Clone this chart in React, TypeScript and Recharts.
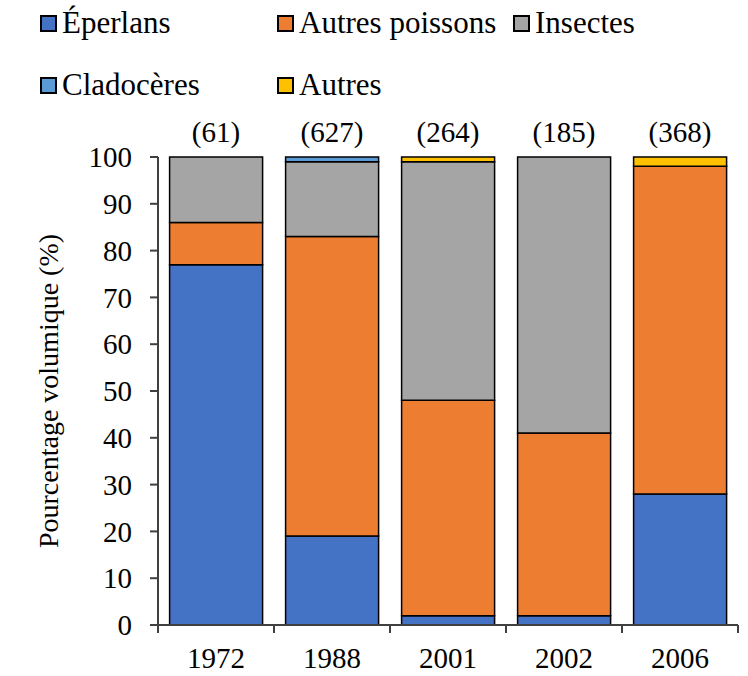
import React from "react";
import { BarChart, Bar, XAxis, YAxis } from "recharts";

const years = ["1972", "1988", "2001", "2002", "2006"];
const sampleSizes = ["(61)", "(627)", "(264)", "(185)", "(368)"];
const eperlans = [77, 19, 2, 2, 28];
const autresPoissons = [9, 64, 46, 39, 70];
const insectes = [14, 16, 51, 59, 0];
const cladoceres = [0, 1, 0, 0, 0];
const autres = [0, 0, 1, 0, 2];
const yTicks = [0, 10, 20, 30, 40, 50, 60, 70, 80, 90, 100];

const series = [
  { key: "eperlans", name: "Éperlans", color: "#4472C4" },
  { key: "autresPoissons", name: "Autres poissons", color: "#ED7D31" },
  { key: "insectes", name: "Insectes", color: "#A5A5A5" },
  { key: "cladoceres", name: "Cladocères", color: "#5B9BD5" },
  { key: "autres", name: "Autres", color: "#FFC000" },
];

const data = years.map((year, i) => ({
  year,
  n: sampleSizes[i],
  eperlans: eperlans[i],
  autresPoissons: autresPoissons[i],
  insectes: insectes[i],
  cladoceres: cladoceres[i],
  autres: autres[i],
}));

const FONT = "Liberation Serif, Times New Roman, serif";
const AXIS = "#404040";

const W = 748;
const H = 676;
const PLOT_LEFT = 158;
const PLOT_RIGHT = 738;
const BAND = (PLOT_RIGHT - PLOT_LEFT) / years.length;

// Excel-style x ticks: marks sit at category boundaries, labels in the middle
function YearTick(props: any) {
  const { x, y, payload, index } = props;
  const left = x - BAND / 2;
  return (
    <g>
      <line x1={left} y1={y - 8} x2={left} y2={y} stroke={AXIS} strokeWidth={2} />
      {index === years.length - 1 && (
        <line x1={x + BAND / 2} y1={y - 8} x2={x + BAND / 2} y2={y} stroke={AXIS} strokeWidth={2} />
      )}
      <text x={x} y={y + 35} textAnchor="middle" fontFamily={FONT} fontSize={29} fill="#000">
        {payload.value}
      </text>
    </g>
  );
}

const legendRows = [
  [series[0], series[1], series[2]],
  [series[3], series[4]],
];
const legendX = [40, 277, 513];
const legendY = [23, 85];

function LegendBox() {
  return (
    <>
      {legendRows.map((row, r) =>
        row.map((s, c) => (
          <div
            key={s.key}
            style={{
              position: "absolute",
              left: legendX[c],
              top: legendY[r] - 18,
              display: "flex",
              alignItems: "center",
              fontFamily: FONT,
              fontSize: 31,
              lineHeight: "36px",
              color: "#000",
              whiteSpace: "nowrap",
            }}
          >
            <span
              style={{
                display: "inline-block",
                width: 13,
                height: 13,
                background: s.color,
                border: "2px solid #000",
                marginRight: 5,
              }}
            />
            {s.name}
          </div>
        ))
      )}
    </>
  );
}

export default function App() {
  return (
    <div style={{ position: "absolute", left: 0, top: 0, width: W, height: H, background: "#fff" }}>
      <LegendBox />
      <BarChart
        width={W}
        height={H}
        data={data}
        barCategoryGap="10%"
        margin={{ top: 112, right: W - PLOT_RIGHT, bottom: 0, left: 0 }}
      >
        <XAxis
          xAxisId="top"
          orientation="top"
          dataKey="n"
          axisLine={false}
          tickLine={false}
          height={45}
          tick={{ fontFamily: FONT, fontSize: 29, fill: "#000" }}
          tickMargin={9}
        />
        <XAxis
          dataKey="year"
          height={51}
          axisLine={{ stroke: AXIS, strokeWidth: 2 }}
          tickLine={false}
          tick={<YearTick />}
        />
        <YAxis
          domain={[0, 100]}
          ticks={yTicks}
          interval={0}
          width={PLOT_LEFT}
          axisLine={{ stroke: AXIS, strokeWidth: 2 }}
          tickLine={{ stroke: AXIS, strokeWidth: 2 }}
          tickSize={8}
          tickMargin={18}
          tick={{ fontFamily: FONT, fontSize: 29, fill: "#000" }}
          label={{
            value: "Pourcentage volumique (%)",
            angle: -90,
            position: "insideLeft",
            offset: 48,
            style: { fontFamily: FONT, fontSize: 28, fill: "#000", textAnchor: "middle" },
          }}
        />
        {series.map((s) => (
          <Bar
            key={s.key}
            dataKey={s.key}
            name={s.name}
            stackId="a"
            fill={s.color}
            stroke="#000"
            strokeWidth={1.5}
            isAnimationActive={false}
          />
        ))}
      </BarChart>
    </div>
  );
}
